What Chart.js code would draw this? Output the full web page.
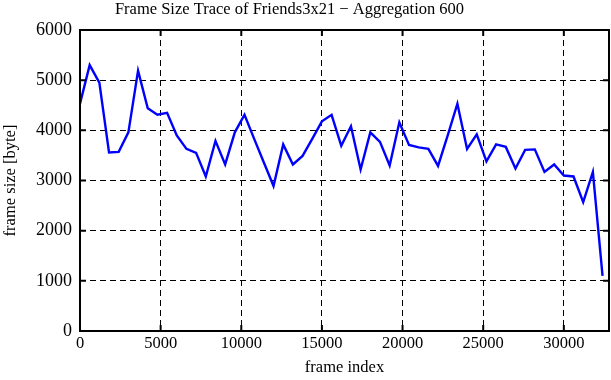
<!DOCTYPE html>
<html>
<head>
<meta charset="utf-8">
<script src="https://cdn.jsdelivr.net/npm/chart.js@4/dist/chart.umd.min.js"></script>
<style>
    body { margin: 0; background: #fff; }
    canvas { display: block; }
</style>
</head>
<body>
<canvas id="traceChart" width="611" height="380"></canvas>
<script>
// Data trace (agregasi 600 frame)
const frameIndex = [
    0, 600, 1200, 1800, 2400, 3000, 3600, 4200, 4800, 5400,
    6000, 6600, 7200, 7800, 8400, 9000, 9600, 10200, 10800, 11400,
    12000, 12600, 13200, 13800, 14400, 15000, 15600, 16200, 16800, 17400,
    18000, 18600, 19200, 19800, 20400, 21000, 21600, 22200, 22800, 23400,
    24000, 24600, 25200, 25800, 26400, 27000, 27600, 28200, 28800, 29400,
    30000, 30600, 31200, 31800, 32400
];
const frameSize = [
    4530, 5300, 4950, 3560, 3570, 3960, 5190, 4440, 4310, 4350,
    3900, 3630, 3550, 3080, 3790, 3320, 3960, 4310, 3830, 3360,
    2890, 3720, 3320, 3490, 3830, 4180, 4310, 3690, 4080, 3220,
    3960, 3770, 3300, 4160, 3710, 3660, 3630, 3290, 3900, 4530,
    3630, 3920, 3380, 3720, 3670, 3240, 3610, 3620, 3170, 3320,
    3100, 3080, 2570, 3170, 1100
];
const xTicks = [0, 5000, 10000, 15000, 20000, 25000, 30000];
const yTicks = [0, 1000, 2000, 3000, 4000, 5000, 6000];
const chartTitle = 'Frame Size Trace of Friends3x21 \u2212 Aggregation 600';

const serif = 'Liberation Serif';

// Bingkai kotak + tick ke dalam di keempat sisi (gaya gnuplot), plus judul
const framePlugin = {
    id: 'frame',
    afterDraw(chart) {
        const ctx = chart.ctx;
        const a = chart.chartArea;
        const xs = chart.scales.x;
        const ys = chart.scales.y;
        const len = 6;
        ctx.save();
        ctx.strokeStyle = '#000';
        ctx.lineWidth = 2;
        ctx.beginPath();
        xTicks.forEach(v => {
            const px = xs.getPixelForValue(v);
            ctx.moveTo(px, a.bottom); ctx.lineTo(px, a.bottom - len);
            ctx.moveTo(px, a.top); ctx.lineTo(px, a.top + len);
        });
        yTicks.forEach(v => {
            const py = ys.getPixelForValue(v);
            ctx.moveTo(a.left, py); ctx.lineTo(a.left + len, py);
            ctx.moveTo(a.right, py); ctx.lineTo(a.right - len, py);
        });
        ctx.stroke();
        ctx.strokeRect(a.left, a.top, a.right - a.left, a.bottom - a.top);

        // judul, sedikit ke kiri seperti gambar asli
        ctx.fillStyle = '#000';
        ctx.font = '16.5px "' + serif + '"';
        ctx.textAlign = 'center';
        ctx.textBaseline = 'middle';
        ctx.fillText(chartTitle, chart.width / 2 - 16, 10);
        ctx.restore();
    }
};

const ctx = document.getElementById('traceChart').getContext('2d');
new Chart(ctx, {
    type: 'line',
    data: {
        datasets: [{
            label: 'frame size',
            data: frameIndex.map((x, i) => ({ x: x, y: frameSize[i] })),
            borderColor: '#0000ff',
            borderWidth: 2.4,
            pointRadius: 0,
            tension: 0,
            fill: false
        }]
    },
    options: {
        responsive: false,
        animation: false,
        devicePixelRatio: 1,
        layout: { padding: { left: 0, right: 2, top: 30, bottom: 0 } },
        plugins: {
            legend: { display: false },
            tooltip: { enabled: false },
            title: { display: false }
        },
        scales: {
            x: {
                type: 'linear',
                min: 0,
                max: 32800,
                afterBuildTicks: s => { s.ticks = xTicks.map(v => ({ value: v })); },
                afterFit: s => { s.height = 49; },
                ticks: {
                    color: '#000',
                    font: { family: serif, size: 16.5 },
                    padding: 3,
                    maxRotation: 0,
                    autoSkip: false,
                    callback: v => String(v)
                },
                grid: { color: '#000', lineWidth: 1, drawTicks: false },
                border: { display: false, dash: [6, 4] },
                title: {
                    display: true,
                    text: 'frame index',
                    color: '#000',
                    font: { family: serif, size: 16.5 },
                    padding: { top: 0, bottom: 2 }
                }
            },
            y: {
                min: 0,
                max: 6000,
                afterBuildTicks: s => { s.ticks = yTicks.map(v => ({ value: v })); },
                afterFit: s => { s.width = 80; },
                ticks: {
                    color: '#000',
                    font: { family: serif, size: 18 },
                    padding: 8,
                    callback: v => String(v)
                },
                grid: { color: '#000', lineWidth: 1, drawTicks: false },
                border: { display: false, dash: [6, 4] },
                title: {
                    display: true,
                    text: 'frame size [byte]',
                    color: '#000',
                    font: { family: serif, size: 16.5 },
                    padding: { top: 1, bottom: 0 }
                }
            }
        }
    },
    plugins: [framePlugin]
});
</script>
</body>
</html>
